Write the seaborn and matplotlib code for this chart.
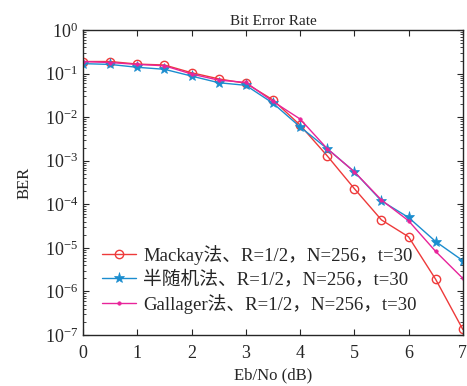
import numpy as np
import pandas as pd
import matplotlib
matplotlib.use("Agg")
import matplotlib.pyplot as plt
import seaborn as sns

ebno = [0, 0.5, 1, 1.5, 2, 2.5, 3, 3.5, 4, 4.5, 5, 5.5, 6, 6.5, 7]
ber_mackay = [0.19, 0.19, 0.166, 0.158, 0.105, 0.076, 0.060, 0.025, 0.0066,
              1.3e-3, 2.3e-4, 4.4e-5, 1.8e-5, 1.9e-6, 1.35e-7]
ber_semi = [0.17, 0.163, 0.14, 0.126, 0.088, 0.062, 0.054, 0.021, 0.006,
            1.9e-3, 5.6e-4, 1.2e-4, 5.0e-5, 1.4e-5, 5.1e-6]
ber_gallager = [0.19, 0.18, 0.163, 0.152, 0.098, 0.071, 0.063, 0.023, 0.0091,
                1.9e-3, 5.6e-4, 1.26e-4, 4.2e-5, 8.3e-6, 2.0e-6]
labels = ["Mackay法、R=1/2，N=256，t=30",
          "半随机法、R=1/2，N=256，t=30",
          "Gallager法、R=1/2，N=256，t=30"]
colors = ["#ee3a3a", "#1b8dcf", "#e8249a"]
markers = ["o", "*", "."]

sns.set_style("ticks")
plt.rcParams['font.family'] = ['Liberation Serif', 'Noto Sans CJK SC']
plt.rcParams['mathtext.fontset'] = 'stix'

fig = plt.figure(figsize=(4.67, 3.86), dpi=100)
ax = fig.add_axes([0.178, 0.132, 0.813, 0.79])

marker_kw = {
    "o": dict(markersize=6, markerfacecolor="none", markeredgewidth=1.0),
    "*": dict(markersize=8, markeredgewidth=0.5),
    ".": dict(markersize=5, markeredgewidth=0.5),
}
for ys, lab, c, m in zip([ber_mackay, ber_semi, ber_gallager], labels, colors, markers):
    df = pd.DataFrame({"x": ebno, "y": ys})
    sns.lineplot(data=df, x="x", y="y", ax=ax, color=c, marker=m, linewidth=1.0,
                 label=lab, markeredgecolor=c, **marker_kw[m])

ax.set_yscale("log")
ax.set_xlim(0, 7)
ax.set_ylim(1e-7, 1)
ax.set_yticks([10.0 ** k for k in range(-7, 1)])
ax.set_xticks(range(0, 8))
ax.tick_params(which="both", direction="in", top=True, right=True, labelsize=13)
ax.tick_params(which="major", length=4)
ax.tick_params(which="minor", length=2)
ax.tick_params(axis="x", pad=7)
for s in ax.spines.values():
    s.set_linewidth(1.0)
ax.set_xlabel("Eb/No (dB)", fontsize=12, labelpad=4)
ax.set_ylabel("BER", fontsize=12, labelpad=9)
ax.set_title("Bit Error Rate", fontsize=11, pad=4)
ax.legend(loc="lower left", frameon=False, fontsize=13.5, handlelength=1.8,
          handletextpad=0.4, borderaxespad=0.0, labelspacing=0.3,
          bbox_to_anchor=(0.03, 0.045))

fig.savefig("out.png", dpi=100)
